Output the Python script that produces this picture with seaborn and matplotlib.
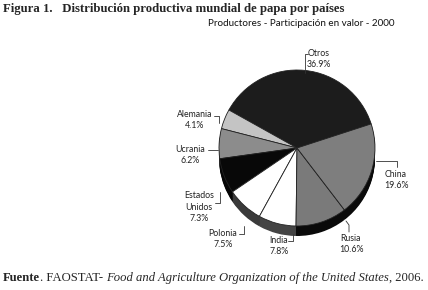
import numpy as np
import seaborn as sns
import matplotlib.pyplot as plt

# data (share of world potato production value, 2000)
paises = ['Otros', 'Alemania', 'Ucrania', 'Estados\nUnidos', 'Polonia', 'India', 'Rusia', 'China']
valores = [36.9, 4.1, 6.2, 7.3, 7.5, 7.8, 10.6, 19.6]
colores_top = ['#1c1c1c', '#c4c4c4', '#8c8c8c', '#080808', '#ffffff', '#ffffff', '#7a7a7a', '#7e7e7e']
colores_lado = ['#050505', '#555555', '#333333', '#050505', '#3a3a3a', '#444444', '#0a0a0a', '#0a0a0a']

sns.set_style('white')
plt.rcParams['font.family'] = ['Lato', 'DejaVu Sans']

fig = plt.figure(figsize=(4.28, 2.90), dpi=100)
ax = fig.add_axes([0, 0, 1, 1])

cx, cy, r = 297, 148, 78
prof = 10

# side of the "3D" pie: stack shifted copies
for d in range(prof, 0, -1):
    ax.pie(valores, colors=colores_lado, radius=r, center=(cx, cy + d),
           startangle=-18, counterclock=False, frame=True,
           wedgeprops=dict(linewidth=0))
ax.pie(valores, colors=colores_top, radius=r, center=(cx, cy),
       startangle=-18, counterclock=False, frame=True,
       wedgeprops=dict(edgecolor='#222222', linewidth=0.6))

ax.set_xlim(0, 428)
ax.set_ylim(290, 0)
ax.set_aspect('equal')
ax.axis('off')

# labels
pos_labels = {'Otros': (319, 59), 'China': (396, 180), 'Rusia': (351, 244),
              'India': (279, 246), 'Polonia': (223, 239), 'Estados\nUnidos': (199, 207),
              'Ucrania': (190, 155), 'Alemania': (195, 120)}
for p, v in zip(paises, valores):
    x, y = pos_labels[p]
    ax.text(x, y, f'{p}\n{v:.1f}%', ha='center', va='center', fontsize=6.3,
            color='#222222', linespacing=1.3)

lineas = [[(308, 54), (305, 54), (305, 73)],
          [(376, 161), (397, 161), (397, 167)],
          [(346, 221), (349, 225), (349, 232)],
          [(288, 241), (293, 241), (293, 234)],
          [(239, 234), (244, 234), (244, 226)],
          [(215, 203), (220, 203), (220, 192)],
          [(208, 150), (218, 150)],
          [(214, 116), (219, 116), (219, 123)]]
for ln in lineas:
    xs, ys = zip(*ln)
    ax.plot(xs, ys, color='#333333', lw=0.6)

# titles
ax.text(3, 9, 'Figura 1.   Distribución productiva mundial de papa por países',
        family='Liberation Serif', weight='bold', fontsize=9.2, va='center', ha='left')
ax.text(395, 24, 'Productores - Participación en valor - 2000', fontsize=7.1,
        va='center', ha='right', color='#111111')

# footer with mixed styles
fig.canvas.draw()
rend = fig.canvas.get_renderer()
partes = [('Fuente', 'bold', 'normal', 0), ('. FAOSTAT-', 'normal', 'normal', 3),
          ('Food and Agriculture Organization of the United States', 'normal', 'italic', 0),
          (', 2006.', 'normal', 'normal', 0)]
x0 = 3
for txt, w, st, gap in partes:
    t = ax.text(x0, 278, txt, family='Liberation Serif', weight=w, style=st,
                fontsize=9.1, va='center', ha='left')
    bb = t.get_window_extent(renderer=rend)
    x0 = bb.x1 + gap

fig.savefig('out.png', dpi=100)
